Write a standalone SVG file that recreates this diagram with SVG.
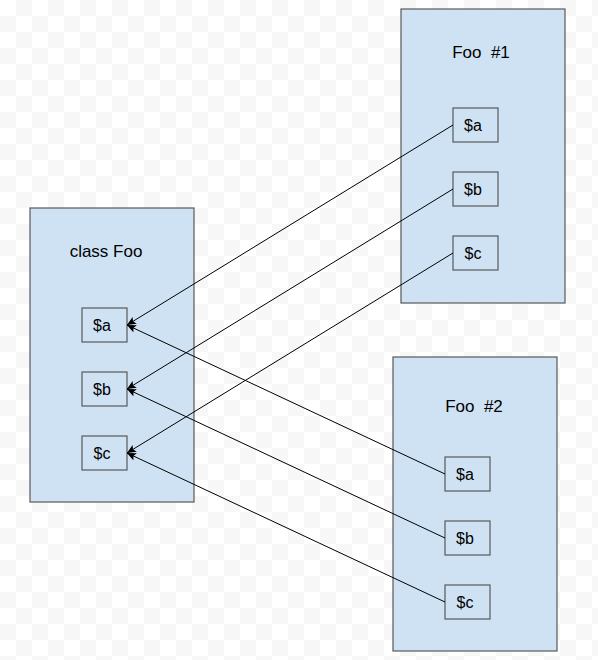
<svg xmlns="http://www.w3.org/2000/svg" width="598" height="660" viewBox="0 0 598 660">
  <style>
    .outer { fill: #cfe2f3; stroke: #595959; stroke-width: 1.2; }
    .inner { fill: #cfe2f3; stroke: #595959; stroke-width: 1.2; }
    .title { font-family: "Liberation Sans", Arial, sans-serif; font-size: 17px; fill: #000; text-anchor: middle; }
    .lbl { font-family: "Liberation Sans", Arial, sans-serif; font-size: 16px; fill: #000; text-anchor: middle; }
    .conn { fill: none; stroke: #000; stroke-width: 1; marker-end: url(#arrow); }
  </style>
  <defs>
    <marker id="arrow" markerWidth="10" markerHeight="10" refX="9" refY="5" orient="auto" markerUnits="userSpaceOnUse">
      <path d="M0,1 L9,5 L0,9 L2,5 Z" fill="#000"/>
    </marker>
    <pattern id="bg" width="32" height="32" patternUnits="userSpaceOnUse">
      <rect width="32" height="32" fill="#ffffff"/>
      <rect x="16" y="0" width="16" height="16" fill="#f7f7f7"/>
      <rect x="0" y="16" width="16" height="16" fill="#f7f7f7"/>
    </pattern>
  </defs>
  <rect width="598" height="660" fill="url(#bg)"/>

  <g id="classFoo">
    <rect class="outer" x="30" y="208" width="164" height="294"/>
    <text class="title" x="106" y="257">class Foo</text>
    <g id="classFoo-a"><rect class="inner" x="82" y="308" width="45" height="34"/><text class="lbl" x="102" y="331">$a</text></g>
    <g id="classFoo-b"><rect class="inner" x="82" y="372" width="45" height="34"/><text class="lbl" x="102" y="395">$b</text></g>
    <g id="classFoo-c"><rect class="inner" x="82" y="436" width="45" height="34"/><text class="lbl" x="102" y="459">$c</text></g>
  </g>

  <g id="foo1">
    <rect class="outer" x="401" y="9" width="164" height="294"/>
    <text class="title" x="481" y="58" xml:space="preserve">Foo  #1</text>
    <g id="foo1-a"><rect class="inner" x="453" y="108" width="45" height="34"/><text class="lbl" x="473" y="131">$a</text></g>
    <g id="foo1-b"><rect class="inner" x="453" y="172" width="45" height="34"/><text class="lbl" x="473" y="195">$b</text></g>
    <g id="foo1-c"><rect class="inner" x="453" y="236" width="45" height="34"/><text class="lbl" x="473" y="259">$c</text></g>
  </g>

  <g id="foo2">
    <rect class="outer" x="393" y="357" width="164" height="294"/>
    <text class="title" x="474" y="412" xml:space="preserve">Foo  #2</text>
    <g id="foo2-a"><rect class="inner" x="445" y="457" width="45" height="34"/><text class="lbl" x="465" y="480">$a</text></g>
    <g id="foo2-b"><rect class="inner" x="445" y="521" width="45" height="34"/><text class="lbl" x="465" y="544">$b</text></g>
    <g id="foo2-c"><rect class="inner" x="445" y="585" width="45" height="34"/><text class="lbl" x="465" y="608">$c</text></g>
  </g>

  <g id="connectors">
    <line class="conn" x1="453" y1="125" x2="127" y2="325"/>
    <line class="conn" x1="453" y1="189" x2="127" y2="389"/>
    <line class="conn" x1="453" y1="253" x2="127" y2="453"/>
    <line class="conn" x1="445" y1="474" x2="127" y2="325"/>
    <line class="conn" x1="445" y1="538" x2="127" y2="389"/>
    <line class="conn" x1="445" y1="602" x2="127" y2="453"/>
  </g>
</svg>
